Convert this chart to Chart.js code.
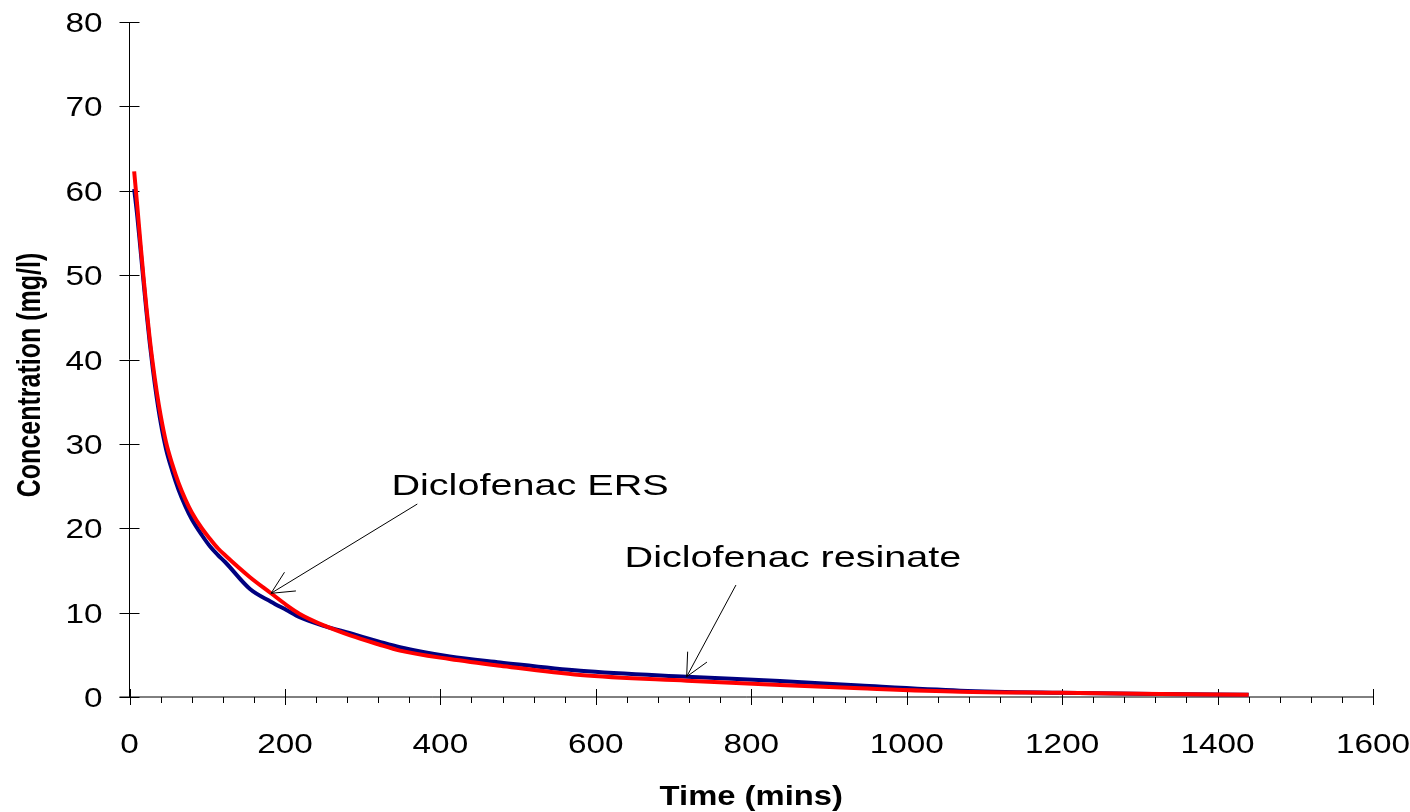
<!DOCTYPE html>
<html>
<head>
<meta charset="utf-8">
<title>Diclofenac concentration</title>
<script src="https://cdn.jsdelivr.net/npm/chart.js@4.4.1/dist/chart.umd.min.js"></script>
<style>
  html, body { margin: 0; padding: 0; background: #fff; }
  #wrap { width: 1410px; height: 812px; position: relative; }
</style>
</head>
<body>
<div id="wrap"><canvas id="concChart"></canvas></div>
<script>
// time points (mins)
const timeMins = [6, 10, 14, 18, 22, 26, 30, 35, 40, 47, 55, 63, 72, 80, 93, 104, 114, 123, 155,
  182, 202, 219, 251, 284, 320, 348, 412, 477, 580, 717, 837, 940, 1069, 1197, 1326, 1440];

// Diclofenac resinate (navy)
const resinateConc = [60.2, 57.0, 53.2, 49.3, 45.5, 42.0, 38.9, 35.5, 32.6, 29.4, 26.8, 24.6, 22.6, 21.1, 19.2, 17.8, 16.8, 16.0, 12.8,
  11.3, 10.3, 9.45, 8.4, 7.55, 6.6, 5.9, 4.8, 4.1, 3.1, 2.4, 1.9, 1.35, 0.75, 0.5, 0.36, 0.28];

// Diclofenac ERS (red)
const ersConc = [62.3, 58.2, 53.9, 49.8, 46.0, 42.5, 39.5, 36.2, 33.4, 30.2, 27.6, 25.4, 23.4, 21.9, 20.0, 18.7, 17.6, 16.8, 14.2,
  12.3, 10.9, 9.85, 8.45, 7.3, 6.25, 5.5, 4.5, 3.7, 2.6, 1.93, 1.42, 1.03, 0.63, 0.5, 0.36, 0.28];

// axis ticks
const xTicks = [0, 200, 400, 600, 800, 1000, 1200, 1400, 1600];
const xMinorStep = 40;
const yTicks = [0, 10, 20, 30, 40, 50, 60, 70, 80];

// annotation labels: [text, x, y] in data units, arrows: [fromX, fromY, tipX, tipY]
const labelERS = ["Diclofenac ERS", 337, 23.9];
const labelResinate = ["Diclofenac resinate", 637, 15.45];
const arrowERS = [370.3, 22.87, 182.1, 12.29];
const arrowResinate = [780.3, 13.27, 716.9, 2.41];

const FONT = '"Liberation Sans", Arial, sans-serif';

// draws text stretched horizontally like the original picture
function wideText(ctx, txt, x, y, font, sx, align, rot) {
  ctx.save();
  ctx.translate(x, y);
  if (rot) {
    ctx.rotate(rot);
    ctx.scale(1, sx);
  } else {
    ctx.scale(sx, 1);
  }
  ctx.font = font;
  ctx.fillStyle = "#000";
  ctx.textAlign = align;
  ctx.textBaseline = "alphabetic";
  ctx.fillText(txt, 0, 0);
  ctx.restore();
}

function drawArrow(ctx, x1, y1, x2, y2) {
  const ang = Math.atan2(y1 - y2, x1 - x2);
  const len = 25, spread = 26 * Math.PI / 180;
  ctx.beginPath();
  ctx.moveTo(x1, y1);
  ctx.lineTo(x2, y2);
  ctx.moveTo(x2 + len * Math.cos(ang - spread), y2 + len * Math.sin(ang - spread));
  ctx.lineTo(x2, y2);
  ctx.lineTo(x2 + len * Math.cos(ang + spread), y2 + len * Math.sin(ang + spread));
  ctx.stroke();
}

const excelAxes = {
  id: "excelAxes",
  beforeDatasetsDraw(chart) {
    const ctx = chart.ctx;
    const xs = chart.scales.x, ys = chart.scales.y;
    const a = chart.chartArea;
    ctx.save();
    ctx.strokeStyle = "#000";
    ctx.lineWidth = 1;
    // axis lines
    ctx.beginPath();
    ctx.moveTo(a.left, a.top);
    ctx.lineTo(a.left, a.bottom);
    ctx.moveTo(a.left - 10, a.bottom);
    ctx.lineTo(a.right, a.bottom);
    ctx.stroke();
    // y ticks crossing the axis
    ctx.beginPath();
    yTicks.forEach(v => {
      const py = Math.round(ys.getPixelForValue(v)) + 0.5;
      ctx.moveTo(a.left - 10, py);
      ctx.lineTo(a.left + 10, py);
    });
    // x major ticks crossing, minor ticks below
    xTicks.forEach(v => {
      const px = Math.round(xs.getPixelForValue(v)) + 0.5;
      ctx.moveTo(px, a.bottom - 8);
      ctx.lineTo(px, a.bottom + 8);
    });
    for (let v = xMinorStep; v < xs.max; v += xMinorStep) {
      if (v % 200 === 0) continue;
      const px = Math.round(xs.getPixelForValue(v)) + 0.5;
      ctx.moveTo(px, a.bottom);
      ctx.lineTo(px, a.bottom + 6);
    }
    ctx.stroke();
    ctx.restore();
  },
  afterDraw(chart) {
    const ctx = chart.ctx;
    const xs = chart.scales.x, ys = chart.scales.y;
    const a = chart.chartArea;
    // tick labels
    yTicks.forEach(v => {
      wideText(ctx, String(v), a.left - 27, ys.getPixelForValue(v) + 10, "28px " + FONT, 1.19, "right");
    });
    xTicks.forEach(v => {
      wideText(ctx, String(v), xs.getPixelForValue(v), a.bottom + 55.5, "28px " + FONT, 1.19, "center");
    });
    // axis titles
    wideText(ctx, "Time (mins)", (a.left + a.right) / 2, a.bottom + 108, "bold 28px " + FONT, 1.17, "center");
    wideText(ctx, "Concentration (mg/l)", 40, 375, "bold 25px " + FONT, 1.34, "center", -Math.PI / 2);
    // annotations
    [labelERS, labelResinate].forEach(l => {
      wideText(ctx, l[0], xs.getPixelForValue(l[1]), ys.getPixelForValue(l[2]), "30px " + FONT, 1.32, "left");
    });
    ctx.save();
    ctx.strokeStyle = "#000";
    ctx.lineWidth = 1;
    [arrowERS, arrowResinate].forEach(r => {
      drawArrow(ctx, xs.getPixelForValue(r[0]), ys.getPixelForValue(r[1]),
        xs.getPixelForValue(r[2]), ys.getPixelForValue(r[3]));
    });
    ctx.restore();
  }
};

const toPoints = vals => timeMins.map((t, i) => ({ x: t, y: vals[i] }));

new Chart(document.getElementById("concChart"), {
  type: "scatter",
  data: {
    datasets: [
      {
        label: "Diclofenac ERS",
        data: toPoints(ersConc),
        borderColor: "#ff0000",
        backgroundColor: "#ff0000",
        borderWidth: 4,
        showLine: true,
        pointRadius: 0,
        cubicInterpolationMode: "monotone",
        order: 0
      },
      {
        label: "Diclofenac resinate",
        data: toPoints(resinateConc),
        borderColor: "#000080",
        backgroundColor: "#000080",
        borderWidth: 4,
        showLine: true,
        pointRadius: 0,
        cubicInterpolationMode: "monotone",
        order: 1
      }
    ]
  },
  options: {
    responsive: true,
    maintainAspectRatio: false,
    animation: false,
    devicePixelRatio: 1,
    layout: { padding: { left: 129.5, top: 22, right: 37, bottom: 115 } },
    plugins: { legend: { display: false }, tooltip: { enabled: false } },
    scales: {
      x: { type: "linear", min: 0, max: 1600, display: false },
      y: { type: "linear", min: 0, max: 80, display: false }
    }
  },
  plugins: [excelAxes]
});
</script>
</body>
</html>
